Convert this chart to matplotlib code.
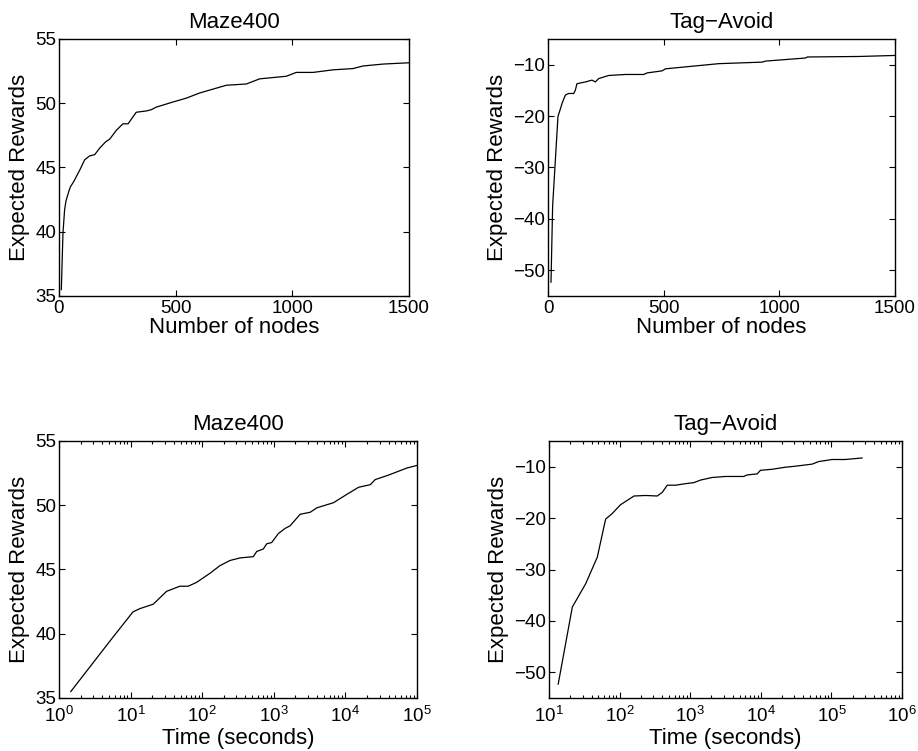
import matplotlib
matplotlib.use("Agg")
import matplotlib.pyplot as plt
from matplotlib.ticker import LogLocator, NullFormatter

plt.rcParams['font.family'] = ['Liberation Sans', 'DejaVu Sans']
plt.rcParams['mathtext.fontset'] = 'custom'
plt.rcParams['mathtext.rm'] = 'Liberation Sans'
plt.rcParams['mathtext.it'] = 'Liberation Sans'

# Maze400 vs number of nodes
maze_nodes = [10, 17, 24, 30, 43, 49, 63, 89, 110, 131, 153, 174, 200, 217, 246, 274, 296,
              331, 374, 396, 417, 489, 546, 603, 660, 717, 803, 860, 974, 1017, 1089,
              1174, 1260, 1303, 1389, 1500]
maze_nodes_r = [35.5, 39.9, 41.7, 42.4, 43.2, 43.5, 43.9, 44.8, 45.6, 45.9, 46.0, 46.5, 47.0,
                47.2, 47.9, 48.4, 48.4, 49.3, 49.4, 49.5, 49.7, 50.1, 50.4, 50.8, 51.1,
                51.4, 51.5, 51.9, 52.1, 52.4, 52.4, 52.6, 52.7, 52.9, 53.05, 53.15]

# Tag-Avoid vs number of nodes
tag_nodes = [13, 20, 43, 61, 75, 89, 111, 118, 125, 162, 190, 205, 219, 262, 335, 414, 428,
             493, 508, 623, 738, 926, 940, 1113, 1121, 1344, 1500]
tag_nodes_r = [-52.3, -37.5, -20.1, -17.5, -15.9, -15.6, -15.6, -15.0, -13.7, -13.35, -13.0,
               -13.35, -12.7, -12.1, -11.9, -11.9, -11.6, -11.2, -10.8, -10.3, -9.8, -9.5,
               -9.3, -8.7, -8.5, -8.4, -8.2]

# Maze400 vs time
maze_time = [1.46, 5.7, 10.8, 13.4, 20.7, 31.8, 48.8, 63.8, 83.5, 128, 177, 244, 337, 518,
             577, 715, 796, 935, 1159, 1438, 1690, 2333, 3217, 3990, 6828, 10490, 15290,
             22240, 26120, 40140, 72500, 100000]
maze_time_r = [35.5, 39.75, 41.7, 41.95, 42.3, 43.3, 43.7, 43.7, 44.0, 44.7, 45.3, 45.7,
               45.9, 46.0, 46.4, 46.6, 47.0, 47.1, 47.8, 48.2, 48.4, 49.3, 49.45, 49.8,
               50.2, 50.85, 51.4, 51.6, 52.0, 52.35, 52.9, 53.1]

# Tag-Avoid vs time
tag_time = [13.5, 21.4, 33, 48.3, 63.4, 78.8, 103, 160, 233, 341, 402, 473, 620, 859, 1127,
            1401, 2048, 3162, 5745, 6407, 8875, 9892, 14460, 22320, 30960, 53300, 66200,
            102000, 158000, 271600]
tag_time_r = [-52.3, -37.3, -32.8, -27.6, -20.2, -19.1, -17.4, -15.7, -15.6, -15.7, -15.0,
              -13.6, -13.6, -13.3, -13.1, -12.6, -12.1, -11.9, -11.9, -11.6, -11.4, -10.7,
              -10.5, -10.1, -9.9, -9.5, -9.0, -8.6, -8.6, -8.3]

titles = ["Maze400", "Tag\u2212Avoid"]
ylabel = "Expected Rewards"
xlabel_nodes = "Number of nodes"
xlabel_time = "Time (seconds)"
maze_yticks = [35, 40, 45, 50, 55]
tag_yticks = [-50, -40, -30, -20, -10]

fig = plt.figure(figsize=(9.18, 7.51), dpi=100)
W, H = 918, 751

def add_ax(l, r, t, b):
    return fig.add_axes([l / W, 1 - b / H, (r - l) / W, (b - t) / H])

ax1 = add_ax(59, 409, 39, 296)
ax2 = add_ax(548, 895, 39, 296)
ax3 = add_ax(59, 417, 441, 698)
ax4 = add_ax(549, 902, 441, 698)

lw = 0.9
ax1.plot(maze_nodes, maze_nodes_r, color='black', lw=lw)
ax2.plot(tag_nodes, tag_nodes_r, color='black', lw=lw)
ax3.plot(maze_time, maze_time_r, color='black', lw=lw)
ax4.plot(tag_time, tag_time_r, color='black', lw=lw)

for ax in (ax1, ax2):
    ax.set_xlim(0, 1500)
    ax.set_xticks([0, 500, 1000, 1500])
    ax.set_xlabel(xlabel_nodes, fontsize=16, labelpad=0)
    ax.tick_params(axis='x', pad=3)

for ax in (ax3, ax4):
    ax.set_xscale('log')
    ax.xaxis.set_minor_locator(LogLocator(base=10, subs=range(2, 10), numticks=20))
    ax.xaxis.set_minor_formatter(NullFormatter())
    ax.set_xlabel(xlabel_time, fontsize=16, labelpad=1)
    ax.tick_params(axis='x', pad=6)

ax3.set_xlim(1, 1e5)
ax4.set_xlim(10, 1e6)

for ax in (ax1, ax3):
    ax.set_ylim(35, 55)
    ax.set_yticks(maze_yticks)
    ax.set_title(titles[0], fontsize=16, pad=8)
for ax in (ax2, ax4):
    ax.set_ylim(-55, -5)
    ax.set_yticks(tag_yticks)
    ax.set_yticklabels(["\u2212%d" % abs(v) for v in tag_yticks])
    ax.set_title(titles[1], fontsize=16, pad=8)

for ax in (ax1, ax2, ax3, ax4):
    ax.set_ylabel(ylabel, fontsize=16, labelpad=4)
    ax.tick_params(which='both', direction='in', top=True, right=True,
                   labelsize=13.5, width=0.8)
    ax.tick_params(which='major', length=4)
    ax.tick_params(which='minor', length=2)
    ax.tick_params(axis='y', pad=2)
    for s in ax.spines.values():
        s.set_linewidth(1.0)

fig.savefig("out.png", dpi=100)
